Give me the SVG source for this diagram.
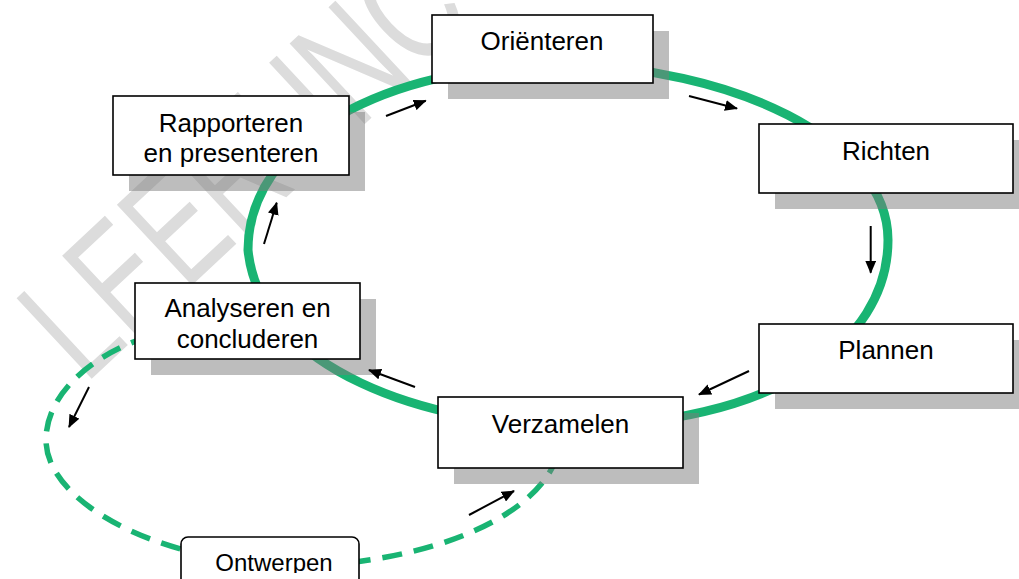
<svg xmlns="http://www.w3.org/2000/svg" width="1019" height="579" viewBox="0 0 1019 579">
  <defs>
    <style>
      .box { fill: #ffffff; stroke: #000000; stroke-width: 1.6; }
      .shadow { fill: #7b7b7b; fill-opacity: 0.5; }
      .lbl { font-family: "Liberation Sans", Arial, sans-serif; font-size: 26px; fill: #000000; text-anchor: middle; }
      .loop { fill: none; stroke: #19b473; stroke-width: 9; }
      .dash { fill: none; stroke: #19b473; stroke-width: 5.5; stroke-dasharray: 20 12; }
      .arr { fill: none; stroke: #000000; stroke-width: 2; marker-end: url(#head); }
      .wm { font-family: "Liberation Sans", Arial, sans-serif; font-size: 160px; fill: #dcdcdc; }
    </style>
    <marker id="head" viewBox="0 0 13 11" refX="12" refY="5.5" markerWidth="13" markerHeight="11" markerUnits="userSpaceOnUse" orient="auto">
      <path d="M0,0 L13,5.5 L0,11 Z" fill="#000000"/>
    </marker>
    <clipPath id="clipOnt">
      <rect x="170" y="530" width="200" height="43"/>
    </clipPath>
  </defs>

  <rect x="0" y="0" width="1019" height="579" fill="#ffffff"/>

  <g id="watermark">
    <text class="wm" transform="translate(85,385) rotate(-43) scale(0.7,1)">LEERUNC</text>
  </g>

  <g id="cycle">
    <path class="loop" d="M248,250 C248,140 385,65 560,65 C730,65 888,140 888,240 C888,345 770,426 570,426 C430,426 260,370 248,250 Z"/>
    <path class="dash" d="M150,336 C90,355 46,395 46,440 C46,500 150,560 290,566 C400,566 525,530 555,462"/>
  </g>

  <g id="node-orienteren">
    <rect class="shadow" x="448" y="31" width="221" height="68"/>
    <rect class="box" x="432" y="15" width="221" height="68"/>
    <text class="lbl" x="542" y="50">Oriënteren</text>
  </g>

  <g id="node-richten">
    <rect class="shadow" x="775" y="140" width="254" height="69"/>
    <rect class="box" x="759" y="124" width="254" height="69"/>
    <text class="lbl" x="886" y="160">Richten</text>
  </g>

  <g id="node-plannen">
    <rect class="shadow" x="775" y="340" width="254" height="69"/>
    <rect class="box" x="759" y="324" width="254" height="69"/>
    <text class="lbl" x="886" y="359">Plannen</text>
  </g>

  <g id="node-verzamelen">
    <rect class="shadow" x="454" y="413" width="245" height="71"/>
    <rect class="box" x="438" y="397" width="245" height="71"/>
    <text class="lbl" x="560.5" y="433">Verzamelen</text>
  </g>

  <g id="node-analyseren">
    <rect class="shadow" x="151" y="299" width="225" height="76"/>
    <rect class="box" x="135" y="283" width="225" height="76"/>
    <text class="lbl" x="247.5" y="317">Analyseren en</text>
    <text class="lbl" x="247.5" y="348">concluderen</text>
  </g>

  <g id="node-rapporteren">
    <rect class="shadow" x="129" y="112" width="236" height="79"/>
    <rect class="box" x="113" y="96" width="236" height="79"/>
    <text class="lbl" x="231" y="132">Rapporteren</text>
    <text class="lbl" x="231" y="162">en presenteren</text>
  </g>

  <g id="node-ontwerpen">
    <rect class="box" x="181" y="537" width="178" height="70" rx="7" ry="7"/>
    <text class="lbl" x="274" y="571" style="font-size:24px" clip-path="url(#clipOnt)">Ontwerpen</text>
  </g>

  <g id="connectors">
    <line class="arr" x1="386" y1="116" x2="425.7" y2="100.7"/>
    <line class="arr" x1="689" y1="96" x2="737" y2="108.5"/>
    <line class="arr" x1="870.7" y1="226" x2="870.7" y2="272.7"/>
    <line class="arr" x1="749" y1="371" x2="699" y2="394.5"/>
    <line class="arr" x1="415" y1="387" x2="369" y2="370"/>
    <line class="arr" x1="264" y1="244" x2="276.7" y2="202.7"/>
    <line class="arr" x1="89" y1="387" x2="69" y2="427"/>
    <line class="arr" x1="469" y1="515" x2="514" y2="491"/>
  </g>
</svg>
